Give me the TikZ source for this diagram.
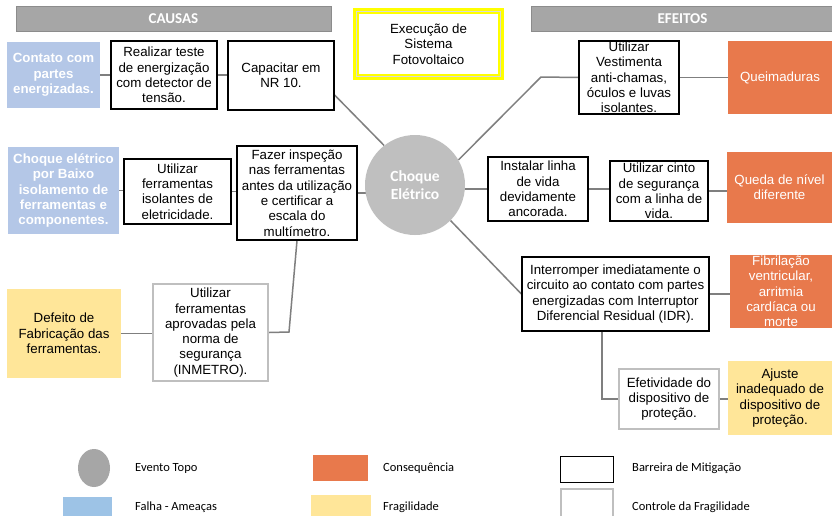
\documentclass[tikz,border=0pt]{standalone}
\usepackage{fontspec}
\setmainfont{Liberation Sans}
\newfontfamily\calib{Carlito}
\usetikzlibrary{calc,shapes.geometric}
\pgfdeclarelayer{back}
\pgfdeclarelayer{bg}
\pgfsetlayers{back,bg,main}
\definecolor{bargray}{HTML}{A6A6A6}
\definecolor{baredge}{HTML}{8C8C8C}
\definecolor{threatblue}{HTML}{B4C7E7}
\definecolor{legblue}{HTML}{9DC3E6}
\definecolor{conseqorange}{HTML}{E8794C}
\definecolor{fragyellow}{HTML}{FFE699}
\definecolor{ctrlgray}{HTML}{BFBFBF}
\definecolor{conngray}{HTML}{7F7F7F}
\definecolor{evgray}{HTML}{BFBFBF}
\definecolor{leggray}{HTML}{A6A6A6}
\definecolor{topyellow}{HTML}{FFFF00}
\definecolor{thinborder}{HTML}{D9D9D9}
\begin{document}
\begin{tikzpicture}[x=1pt,y=-1pt,
  every node/.style={font=\fontsize{13.3}{15.3}\selectfont, inner sep=0pt, align=center},
  barrier/.style={draw=black, line width=1.2pt, fill=white},
  control/.style={draw=ctrlgray, line width=2.2pt, fill=white},
  threat/.style={fill=threatblue, text=white, font=\fontsize{13.3}{15.3}\selectfont\bfseries},
  conseq/.style={fill=conseqorange, text=white},
  frag/.style={fill=fragyellow},
  conn/.style={draw=conngray, line width=1.5pt},
  header/.style={fill=bargray, draw=baredge, line width=0.6pt, text=white, font=\calib\bfseries\fontsize{15}{18}\selectfont},
  legtxt/.style={anchor=west, font=\calib\fontsize{12.5}{15}\selectfont}]
\clip (0,0) rectangle (832,515);
\useasboundingbox (0,0) rectangle (832,515);
\begin{pgfonlayer}{back}
\fill[white] (0,0) rectangle (832,515);
\end{pgfonlayer}

% headers
\node[header, minimum width=315, minimum height=25] (causas) at (173.5,18.5) {CAUSAS};
\node[header, minimum width=303, minimum height=25] (efeitos) at (682.5,18.5) {EFEITOS};

% top yellow box
\node[draw=topyellow, line width=6pt, fill=white, minimum width=145, minimum height=66] (top) at (428.5,44) {Execução de\\Sistema\\Fotovoltaico};
\draw[thinborder, line width=0.8pt] ($(top.south west)+(3.5,-3.5)$) rectangle ($(top.north east)+(-3.5,3.5)$);

% top event
\node[circle, fill=evgray, minimum size=100, text=white, font=\calib\bfseries\fontsize{15.5}{18}\selectfont] (ev) at (415,185) {Choque\\Elétrico};

% left side (causes)
\node[threat, minimum width=93, minimum height=66] (t1) at (53.5,75) {Contato com\\partes\\energizadas.};
\node[barrier, minimum width=106, minimum height=68] (b1) at (164,75) {Realizar teste\\de energização\\com detector de\\tensão.};
\node[barrier, minimum width=106, minimum height=69] (b2) at (281,75.5) {Capacitar em\\NR 10.};

\node[threat, minimum width=111, minimum height=87] (t2) at (63.5,190.5) {Choque elétrico\\por Baixo\\isolamento de\\ferramentas e\\componentes.};
\node[barrier, minimum width=107, minimum height=65] (b3) at (177.5,191.5) {Utilizar\\ferramentas\\isolantes de\\eletricidade.};
\node[barrier, minimum width=120, minimum height=94] (b4) at (297,193) {Fazer inspeção\\nas ferramentas\\antes da utilização\\e certificar a\\escala do\\multímetro.};

\node[frag, minimum width=114, minimum height=89] (f1) at (64,333.5) {Defeito de\\Fabricação das\\ferramentas.};
\node[control, minimum width=115, minimum height=97] (c1) at (210.5,332.5) {Utilizar\\ferramentas\\aprovadas pela\\norma de\\segurança\\(INMETRO).};

% right side (effects)
\node[barrier, minimum width=100, minimum height=73] (b5) at (629,77.5) {Utilizar\\Vestimenta\\anti-chamas,\\óculos e luvas\\isolantes.};
\node[conseq, minimum width=104, minimum height=73] (q1) at (780,77.5) {Queimaduras};

\node[barrier, minimum width=100, minimum height=64] (b6) at (538,189) {Instalar linha\\de vida\\devidamente\\ancorada.};
\node[barrier, minimum width=98, minimum height=60] (b7) at (659,191) {Utilizar cinto\\de segurança\\com a linha de\\vida.};
\node[conseq, minimum width=105, minimum height=71] (q2) at (779.5,187.5) {Queda de nível\\diferente};

\node[barrier, minimum width=187, minimum height=74] (b8) at (615.5,294) {Interromper imediatamente o\\circuito ao contato com partes\\energizadas com Interruptor\\Diferencial Residual (IDR).};
\node[conseq, minimum width=102, minimum height=73] (q3) at (781,291.5) {Fibrilação\\ventricular,\\arritmia\\cardíaca ou\\morte};

\node[control, minimum width=100, minimum height=60] (c2) at (669,399) {Efetividade do\\dispositivo de\\proteção.};
\node[frag, minimum width=104, minimum height=74] (f2) at (780,398) {Ajuste\\inadequado de\\dispositivo de\\proteção.};

% connector bend points
\coordinate (k1) at (289,332);
\coordinate (k2) at (541,77);
\coordinate (k3) at (602,331);

% connectors
\begin{pgfonlayer}{bg}
\draw[conn] (t1.east) -- (t1.east -| b1.west);
\draw[conn] (b1.east) -- (b1.east -| b2.west);
\draw[conn] (b2.-20) -- (ev.128);
\draw[conn] (t2.east) -- (t2.east -| b3.west);
\draw[conn] (b3.east) -- (b3.east -| b4.west);
\draw[conn] (b4.east) -- (b4.east -| ev.center);
\draw[conn] (f1.east) -- (f1.east -| c1.west);
\draw[conn] (c1.east) -- (k1) -- (b4.south);
\draw[conn] (ev.30) -- (k2) -- (b5.west);
\draw[conn] (b5.east) -- (b5.east -| q1.west);
\draw[conn] (ev.center |- b6.west) -- (b6.west);
\draw[conn] (b6.east) -- (b6.east -| b7.west);
\draw[conn] (b7.east) -- (b7.east -| q2.west);
\draw[conn] (ev.-45) -- (b8.west);
\draw[conn] (b8.east) -- (b8.east -| q3.west);
\draw[conn] (k3) |- (c2.west);
\draw[conn] (c2.east) -- (c2.east -| f2.west);
\end{pgfonlayer}

% legend
\node[ellipse, fill=leggray, minimum width=32, minimum height=38] (lev) at (94,468) {};
\node[legtxt] (lev-t) at (135,468) {Evento Topo};
\node[fill=conseqorange, minimum width=55, minimum height=26] (lco) at (340.5,468) {};
\node[legtxt] (lco-t) at (383,468) {Consequência};
\node[draw=black, line width=1pt, fill=white, minimum width=53, minimum height=26] (lba) at (586.5,469) {};
\node[legtxt] (lba-t) at (632,468) {Barreira de Mitigação};
\node[fill=legblue, minimum width=49, minimum height=22] (lfa) at (87.5,508) {};
\node[legtxt] (lfa-t) at (135,507) {Falha - Ameaças};
\node[fill=fragyellow, minimum width=60, minimum height=24] (lfr) at (341,507) {};
\node[legtxt] (lfr-t) at (383,507) {Fragilidade};
\node[draw=ctrlgray, line width=2pt, fill=white, minimum width=52, minimum height=34] (lcf) at (587,506) {};
\node[legtxt] (lcf-t) at (632,507) {Controle da Fragilidade};
\end{tikzpicture}
\end{document}
